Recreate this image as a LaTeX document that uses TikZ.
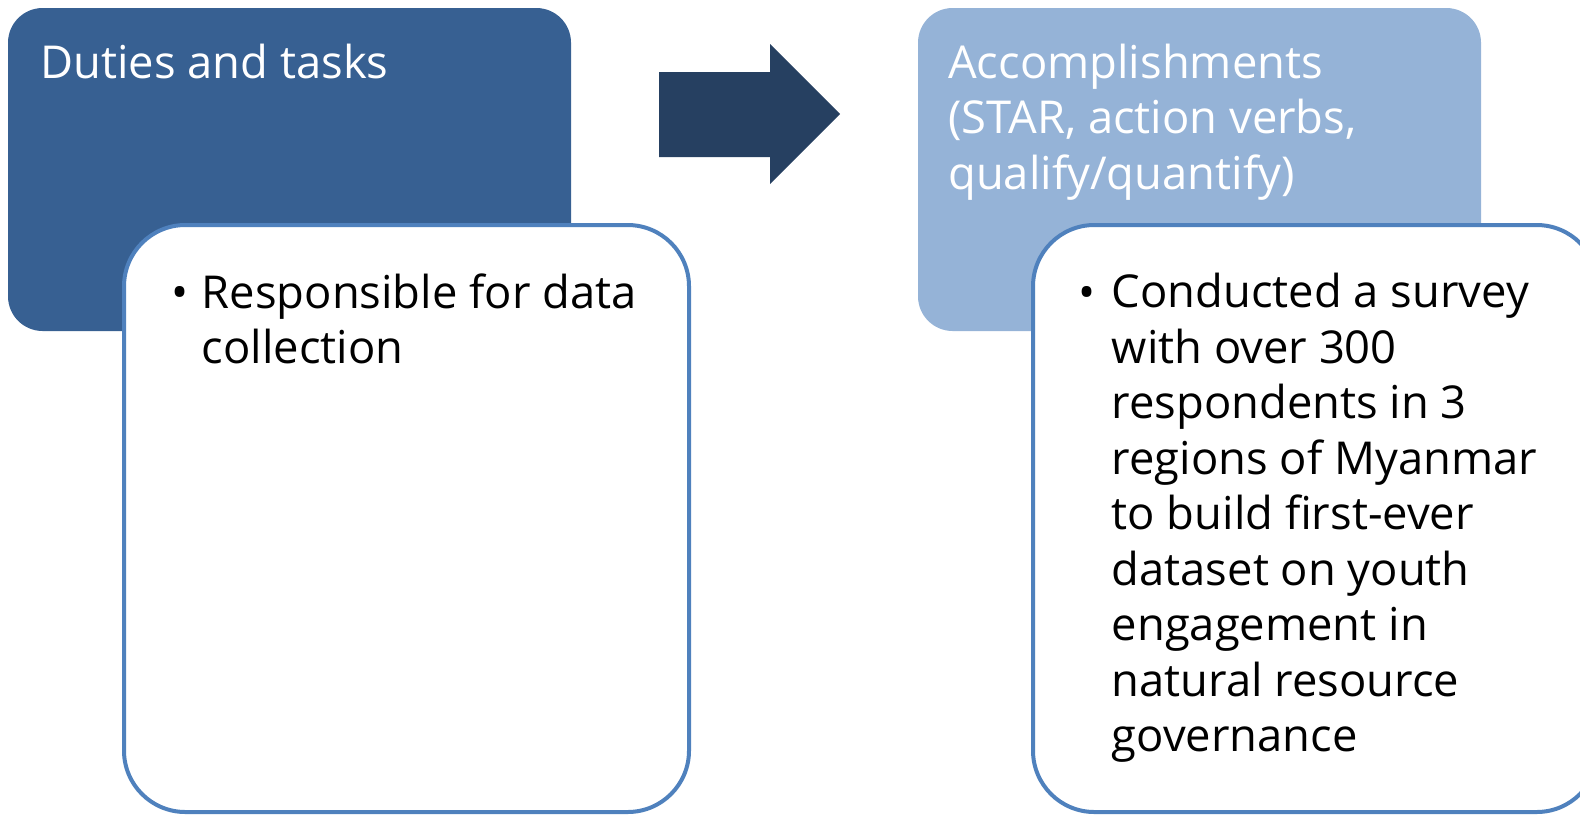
\documentclass[tikz,border=0pt]{standalone}
\usepackage{fontspec}
\setmainfont{Open Sans}
\usetikzlibrary{positioning}
\definecolor{dutyblue}{RGB}{55,96,146}
\definecolor{starblue}{RGB}{149,179,215}
\definecolor{arrowblue}{RGB}{38,64,97}
\definecolor{frameblue}{RGB}{79,129,189}

\tikzset{
  headbox/.style={rounded corners=26pt, minimum width=422.25pt, minimum height=242.25pt, inner sep=0pt},
  bulletbox/.style={draw=frameblue, line width=3pt, fill=white, rounded corners=46pt,
    minimum width=423.75pt, minimum height=440.25pt, inner sep=0pt},
  % base west sits on the last line of a multi-line text
  headtext/.style={anchor=base west, text=white, align=left, inner sep=0pt,
    font=\fontsize{34}{41.6}\selectfont},
  itemtext/.style={anchor=base west, align=left, inner sep=0pt,
    font=\fontsize{34}{41.6}\selectfont},
}

\begin{document}
\begin{tikzpicture}[x=0.75pt, y=-0.75pt]
    \path[use as bounding box] (0,0) rectangle (1580,815);
    \clip (0,0) rectangle (1580,815);

    % Duties column
    \node[headbox, fill=dutyblue] (duties) at (289.5,169.5) {};
    \node[headtext] (dutiestitle) at (40.3,78.6) {Duties and tasks};
    \node[bulletbox] (dutiesbox) at (406.5,518.5) {};
    \node[itemtext] (dutiesdot) at (171,308) {•};
    \node[itemtext] (dutiesitem) at (201.5,363.5) {Responsible for data\\collection};

    % Big arrow between the columns
    \fill[arrowblue] (659,72) -- (770,72) -- (770,44) -- (840,114)
        -- (770,184) -- (770,157) -- (659,157) -- cycle;

    % Accomplishments column
    \node[headbox, fill=starblue] (accomp) at (1199.5,169.5) {};
    \node[headtext] (accomptitle) at (948,189.4)
        {Accomplishments\\(STAR, action verbs,\\qualify/quantify)};
    \node[bulletbox] (accompbox) at (1315.5,518.5) {};
    \node[itemtext] (accompdot) at (1078,308) {•};
    \node[itemtext] (accompitem) at (1111.5,751.7)
        {Conducted a survey\\with over 300\\respondents in 3\\regions of Myanmar\\to build first-ever\\dataset on youth\\engagement in\\natural resource\\governance};

\end{tikzpicture}
\end{document}
